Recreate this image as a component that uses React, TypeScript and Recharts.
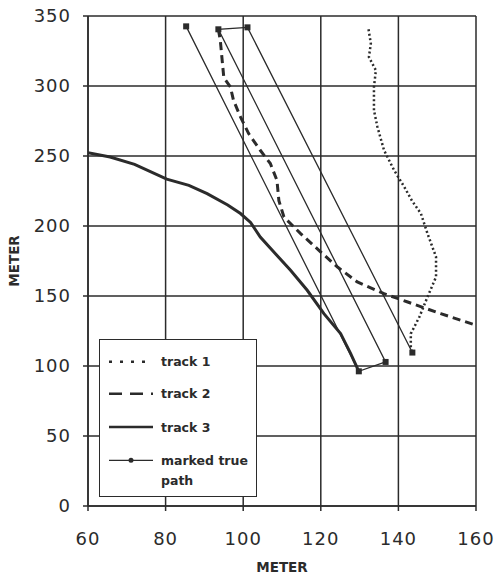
import { LineChart, Line, XAxis, YAxis, CartesianGrid, Legend, Label } from "recharts";

// points, [x meter, y meter]
const track1 = [
  [132.3, 340.5], [132.9, 330.3], [132.4, 320.7], [134.2, 311.2], [133.7, 299.3],
  [133.7, 282.6], [134.6, 270.7], [136.3, 254.1], [138.9, 239.8], [141.5, 228],
  [143.5, 218], [145.8, 208.9], [147.5, 194.6], [149.7, 177.9], [149.7, 163.6],
  [147.5, 149.3], [145.4, 135], [143.2, 123.1], [143.2, 113.6], [143.6, 109.6],
];

const track2 = [
  [93.6, 340.5], [94.1, 332.6], [95, 306], [96.7, 299.3], [97.5, 289.8],
  [99.3, 277.9], [101.4, 266], [104.4, 254.1], [107, 244.6], [108.7, 232.6],
  [109.2, 218], [110.5, 206.4], [114.8, 194.6], [120, 181.4], [124.3, 170.7],
  [129.4, 160], [136.3, 151.7], [142.4, 145.7], [150.9, 137.4], [160, 129.1],
];

const track3 = [
  [60, 252.4], [65.7, 249.3], [72, 244], [80.3, 233.5], [86, 229],
  [90.7, 223.1], [96, 215], [99.3, 208.9], [101.9, 202.5], [104.4, 192.1],
  [107.9, 181.4], [112.2, 168.4], [116.5, 154.1], [120.8, 137.4], [125.1, 123.1],
  [127.7, 108.9], [129.8, 96.2],
];

const truePath = [
  [85.3, 342.6], [129.8, 96.2], [136.7, 102.9], [93.6, 340.5], [101.1, 341.9], [143.6, 109.6],
];

const xTicks = [60, 80, 100, 120, 140, 160];
const yTicks = [0, 50, 100, 150, 200, 250, 300, 350];
const legendLabels = ["track 1", "track 2", "track 3", "marked true", "path"];

const toRows = (pts: number[][]) => pts.map(([x, y]) => ({ x, y }));

const INK = "#2b2b2b";
const FONT = "DejaVu Sans";

const SquareDot = (props: any) => {
  const { cx, cy, index } = props;
  if (cx == null || cy == null) return null;
  return <rect key={`sq-${index}`} x={cx - 3} y={cy - 3} width={6} height={6} fill={INK} />;
};

const LegendBox = () => {
  const rows = [21.7, 53.7, 87, 120.3];
  const txt = { fontFamily: FONT, fontWeight: 700, fontSize: 12.5, fill: INK };
  return (
    <div
      style={{
        width: 158,
        height: 158,
        boxSizing: "border-box",
        border: `1.5px solid ${INK}`,
        background: "#fff",
      }}
    >
      <svg width={155} height={155} style={{ display: "block" }}>
        <line x1={9} x2={53} y1={rows[0]} y2={rows[0]} stroke={INK} strokeWidth={2.5} strokeDasharray="3 8" />
        <line x1={9} x2={53} y1={rows[1]} y2={rows[1]} stroke={INK} strokeWidth={2.5} strokeDasharray="13 8" />
        <line x1={9} x2={53} y1={rows[2]} y2={rows[2]} stroke={INK} strokeWidth={2.5} />
        <line x1={9} x2={53} y1={rows[3]} y2={rows[3]} stroke={INK} strokeWidth={1.2} />
        <circle cx={31} cy={rows[3]} r={2.5} fill={INK} />
        <text x={61} y={rows[0] + 4.6} {...txt}>{legendLabels[0]}</text>
        <text x={61} y={rows[1] + 4.6} {...txt}>{legendLabels[1]}</text>
        <text x={61} y={rows[2] + 4.6} {...txt}>{legendLabels[2]}</text>
        <text x={61} y={rows[3] + 4.6} {...txt}>{legendLabels[3]}</text>
        <text x={61} y={140.3 + 4.6} {...txt}>{legendLabels[4]}</text>
      </svg>
    </div>
  );
};

const YTitle = (props: any) => {
  const vb = props.viewBox || {};
  const cy = (vb.y ?? 16) + (vb.height ?? 490) / 2;
  return (
    <text
      x={14}
      y={cy}
      transform={`rotate(-90 14 ${cy})`}
      textAnchor="middle"
      dominantBaseline="central"
      fontFamily={FONT}
      fontWeight={700}
      fontSize={13.5}
      fill={INK}
    >
      METER
    </text>
  );
};

const tickStyle = { fontFamily: FONT, fontSize: 18, fill: INK, letterSpacing: 1 };

export default function App() {
  return (
    <div style={{ position: "absolute", left: 0, top: 0, background: "#fff" }}>
      <LineChart width={496} height={575} margin={{ top: 16, right: 20, bottom: 0, left: 0 }}>
        <CartesianGrid stroke={INK} strokeWidth={1.5} horizontalValues={yTicks} verticalValues={xTicks} />
        <XAxis
          type="number"
          dataKey="x"
          domain={[60, 160]}
          ticks={xTicks}
          interval={0}
          height={69}
          tickSize={5}
          tickMargin={21}
          stroke={INK}
          strokeWidth={1.5}
          tick={tickStyle}
          allowDataOverflow
        >
          <Label
            value="METER"
            position="insideBottom"
            offset={3}
            style={{ fontFamily: FONT, fontWeight: 700, fontSize: 13.5, fill: INK }}
          />
        </XAxis>
        <YAxis
          type="number"
          dataKey="y"
          domain={[0, 350]}
          ticks={yTicks}
          interval={0}
          width={88}
          tickSize={5}
          tickMargin={12}
          stroke={INK}
          strokeWidth={1.5}
          tick={tickStyle}
          allowDataOverflow
        >
          <Label content={<YTitle />} />
        </YAxis>
        <Line
          data={toRows(track3)}
          dataKey="y"
          type="linear"
          stroke={INK}
          strokeWidth={3}
          dot={false}
          isAnimationActive={false}
        />
        <Line
          data={toRows(track2)}
          dataKey="y"
          type="linear"
          stroke={INK}
          strokeWidth={3}
          strokeDasharray="8 5"
          dot={false}
          isAnimationActive={false}
        />
        <Line
          data={toRows(track1)}
          dataKey="y"
          type="linear"
          stroke={INK}
          strokeWidth={2.5}
          strokeDasharray="2 2.5"
          dot={false}
          isAnimationActive={false}
        />
        <Line
          data={toRows(truePath)}
          dataKey="y"
          type="linear"
          stroke={INK}
          strokeWidth={1.3}
          dot={<SquareDot />}
          isAnimationActive={false}
        />
        <Legend
          layout="vertical"
          align="center"
          verticalAlign="middle"
          content={<LegendBox />}
          wrapperStyle={{ position: "absolute", left: 99, top: 339, width: 158, height: 158 }}
        />
      </LineChart>
    </div>
  );
}
